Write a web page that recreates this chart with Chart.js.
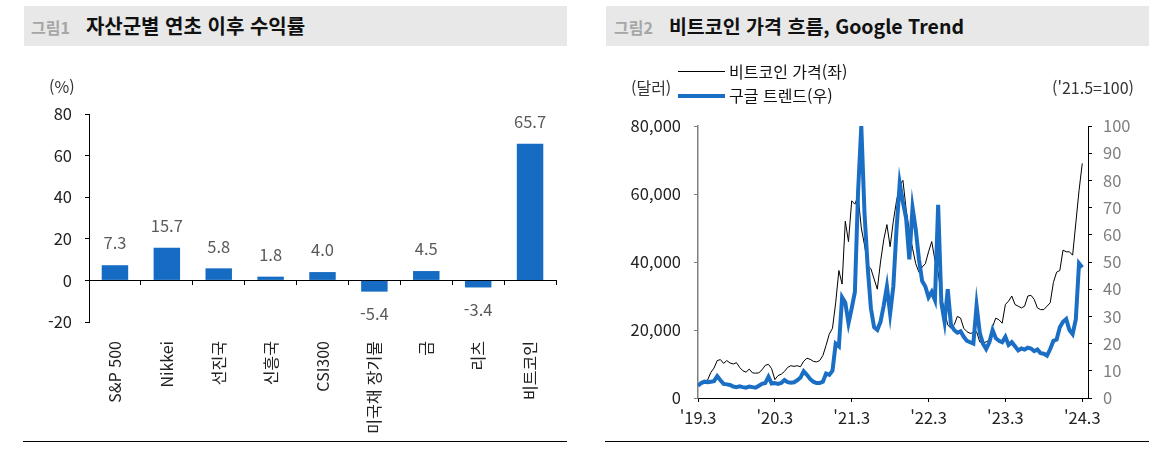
<!DOCTYPE html>
<html lang="ko">
<head>
<meta charset="utf-8">
<script src="https://cdn.jsdelivr.net/npm/chart.js@4.4.1/dist/chart.umd.min.js"></script>
<style>
  html, body { margin: 0; padding: 0; background: #fff; }
  body { width: 1161px; height: 449px; position: relative; overflow: hidden; font-family: 'Noto Sans CJK KR', sans-serif; }
  .titlebar { position: absolute; top: 6px; height: 40px; line-height: 40px; background: #e8e8e8; white-space: nowrap; }
  .titlebar .no { color: #a6a6a6; font-weight: 700; font-size: 16px; }
  .titlebar .tt { color: #111; font-weight: 700; font-size: 20px; margin-left: 16px; }
  .rule { position: absolute; top: 441px; height: 0; border-top: 1.5px solid #000; }
  canvas { position: absolute; top: 0; }
  .txt { position: absolute; font-size: 16px; color: #333; white-space: nowrap; line-height: 16px; }
  .key { position: absolute; left: 678px; width: 47px; }
</style>
</head>
<body>

<div class="titlebar" style="left:24px; width:543px; padding-left:7px; box-sizing:border-box;">
  <span class="no">그림1</span><span class="tt">자산군별 연초 이후 수익률</span>
</div>
<div class="titlebar" style="left:606px; width:543px; padding-left:8px; box-sizing:border-box;">
  <span class="no">그림2</span><span class="tt" style="font-size:19.5px;">비트코인 가격 흐름, Google Trend</span>
</div>

<canvas id="graph1" width="580" height="449" style="left:0;"></canvas>
<canvas id="graph2" width="571" height="449" style="left:590px;"></canvas>

<div class="txt" style="left:49px; top:78px;">(%)</div>
<div class="txt" style="left:631px; top:79px;">(달러)</div>
<div class="txt" style="right:27px; top:79px;">('21.5=100)</div>
<div class="key" style="top:71px; height:1px; background:#000;"></div>
<div class="txt" style="left:729px; top:63px; color:#111;">비트코인 가격(좌)</div>
<div class="key" style="top:94px; height:4px; background:#1a6fc4;"></div>
<div class="txt" style="left:729px; top:87px; color:#111;">구글 트렌드(우)</div>

<div class="rule" style="left:23px; width:544px;"></div>
<div class="rule" style="left:605px; width:544px;"></div>

<script>
const FONT = "'Noto Sans CJK KR', sans-serif";

// 그림1: 자산군별 연초 이후 수익률 (%)
const assetNames = ['S&P 500', 'Nikkei', '선진국', '신흥국', 'CSI300', '미국채 장기물', '금', '리츠', '비트코인'];
const ytdReturn = [7.3, 15.7, 5.8, 1.8, 4.0, -5.4, 4.5, -3.4, 65.7];
const returnTicks = [-20, 0, 20, 40, 60, 80];

// 그림2: half-month samples, '19.3 ~ '24.3
const btcPrice = [
  4000, 4200, 5000, 5300, 7500, 8800, 11000, 11300, 10200, 11000,
  10300, 10000, 10400, 9000, 8000, 7600, 8500, 7400, 7300, 7400,
  8300, 9600, 9900, 8600, 5400, 6600, 7000, 7800, 9000, 9500,
  9300, 9500, 9200, 10800, 11700, 11400, 10800, 10600, 11000, 12500,
  15500, 18800, 20500, 28000, 37500, 33500, 52000, 46000, 58000, 57000,
  59500, 50000, 45000, 39000, 38000, 35000, 32000, 40000, 46500, 51000,
  44500, 52000, 58000, 62500, 64000, 55500, 49000, 44000, 39500, 37000,
  38500, 39500, 43000, 46000, 40500, 37000, 30000, 25500, 21500, 20500,
  21500, 24000, 23500, 20500, 19500, 19000, 19200, 19500, 16500, 16200,
  16500, 17000, 21000, 23500, 23000, 22000, 27500, 28500, 30000, 27500,
  27000, 26500, 27000, 30000, 30200, 29000, 26500, 26000, 26000, 27000,
  28000, 34000, 37000, 37500, 43500, 43000, 43000, 42000, 51500, 61000,
  69000
];
const googleTrend = [
  4.5, 5.5, 6.0, 5.8, 6.0, 6.2, 8.0, 6.5, 5.2, 5.0,
  4.8, 4.2, 4.0, 4.3, 4.0, 3.8, 4.2, 4.0, 3.8, 4.5,
  5.2, 5.5, 7.8, 5.3, 5.5, 5.2, 5.5, 6.6, 5.8, 5.6,
  5.8, 6.5, 7.5, 9.8, 8.5, 7.0, 6.0, 5.5, 5.5, 6.0,
  9.0, 8.5, 10.0, 20.0, 19.0, 37.0, 35.0, 27.5, 33.0, 39.0,
  76.0, 100, 68, 48, 33, 26, 25, 28, 34, 41,
  31, 41, 62, 79, 72, 66, 51, 70, 62, 51,
  43, 41, 37, 39, 36, 71, 35, 28, 40, 27,
  25, 24, 24.5, 22.5, 21, 20.5, 20, 34, 24, 20,
  18, 20.5, 25, 22, 21, 20.5, 22.5, 19.5, 20.5, 19,
  17.5, 18.2, 17.8, 18.5, 18.2, 17.2, 17.8, 16.5, 16.3, 15.6,
  18, 21, 21.5, 26, 28, 29, 25, 23.5, 29, 49.5,
  48
];
const xTickMonths = [0, 12, 24, 36, 48, 60];
const xTickLabels = ["'19.3", "'20.3", "'21.3", "'22.3", "'23.3", "'24.3"];

// value labels above / below the bars
const barValueLabels = {
  id: 'barValueLabels',
  afterDatasetsDraw(chart) {
    const ctx = chart.ctx;
    const meta = chart.getDatasetMeta(0);
    ctx.save();
    ctx.font = '16.5px ' + FONT;
    ctx.fillStyle = '#595959';
    ctx.textAlign = 'center';
    ctx.textBaseline = 'middle';
    meta.data.forEach(function(bar, i) {
      const v = ytdReturn[i];
      const y = v >= 0 ? bar.y - 22 : bar.y + 22;
      ctx.fillText(v.toFixed(1), bar.x, y);
    });
    ctx.restore();
  }
};

new Chart(document.getElementById('graph1'), {
  type: 'bar',
  data: {
    labels: assetNames,
    datasets: [{
      label: '수익률',
      data: ytdReturn,
      backgroundColor: '#166cc2',
      categoryPercentage: 1,
      barPercentage: 0.51
    }]
  },
  options: {
    responsive: false,
    animation: false,
    layout: { padding: { top: 114, right: 24, left: 0, bottom: 0 } },
    plugins: { legend: { display: false }, tooltip: { enabled: false } },
    scales: {
      y: {
        min: -20,
        max: 80,
        afterBuildTicks: function(s) { s.ticks = returnTicks.map(v => ({ value: v })); },
        afterFit: function(s) { s.width = 89; },
        border: { color: '#000', width: 1 },
        grid: { drawOnChartArea: false, tickLength: 4, color: '#000' },
        ticks: { padding: 13, color: '#222', font: { family: FONT, size: 16.5 } }
      },
      x: {
        position: 'bottom',
        afterFit: function(s) { s.height = 127; },
        grid: { display: false },
        border: { display: false },
        ticks: { minRotation: 90, maxRotation: 90, padding: 11, color: '#222', font: { family: FONT, size: 16 } }
      },
      x0: {
        type: 'category',
        position: { y: 0 },
        offset: true,
        grid: { offset: true, drawOnChartArea: false, tickLength: 4, color: '#000' },
        border: { color: '#000', width: 1 },
        ticks: { display: false }
      }
    }
  },
  plugins: [barValueLabels]
});

new Chart(document.getElementById('graph2'), {
  type: 'line',
  data: {
    datasets: [{
      label: '비트코인 가격(좌)',
      data: btcPrice.map((v, i) => ({ x: i / 2, y: v })),
      yAxisID: 'y',
      borderColor: '#000',
      borderWidth: 1,
      pointRadius: 0,
      order: 1
    }, {
      label: '구글 트렌드(우)',
      data: googleTrend.map((v, i) => ({ x: i / 2, y: v })),
      yAxisID: 'y1',
      borderColor: '#1a6fc4',
      borderWidth: 4,
      pointRadius: 0,
      order: 0
    }]
  },
  options: {
    responsive: false,
    animation: false,
    layout: { padding: { top: 126, right: 13, left: 0, bottom: 0 } },
    plugins: { legend: { display: false }, tooltip: { enabled: false } },
    scales: {
      x: {
        type: 'linear',
        min: 0,
        max: 60.9,
        afterBuildTicks: function(s) { s.ticks = xTickMonths.map(v => ({ value: v })); },
        afterFit: function(s) { s.height = 51; },
        border: { color: '#000', width: 1 },
        grid: { drawOnChartArea: false, tickLength: 4, color: '#000' },
        ticks: {
          autoSkip: false, maxRotation: 0, padding: 6, color: '#222',
          font: { family: FONT, size: 16.5 },
          callback: function(v) { return xTickLabels[xTickMonths.indexOf(v)]; }
        }
      },
      y: {
        position: 'left',
        min: 0,
        max: 80000,
        afterFit: function(s) { s.width = 108; },
        border: { color: '#808080', width: 1.5 },
        grid: { drawOnChartArea: false, tickLength: 4, color: '#808080' },
        ticks: {
          stepSize: 20000, padding: 13, color: '#222',
          font: { family: FONT, size: 16.5 },
          callback: function(v) { return v.toLocaleString('en-US'); }
        }
      },
      y1: {
        position: 'right',
        min: 0,
        max: 100,
        afterFit: function(s) { s.width = 60; },
        border: { color: '#000', width: 1 },
        grid: { drawOnChartArea: false, tickLength: 4, color: '#000' },
        ticks: { stepSize: 10, padding: 11, color: '#7f7f7f', font: { family: FONT, size: 16.5 } }
      }
    }
  }
});
</script>
</body>
</html>
